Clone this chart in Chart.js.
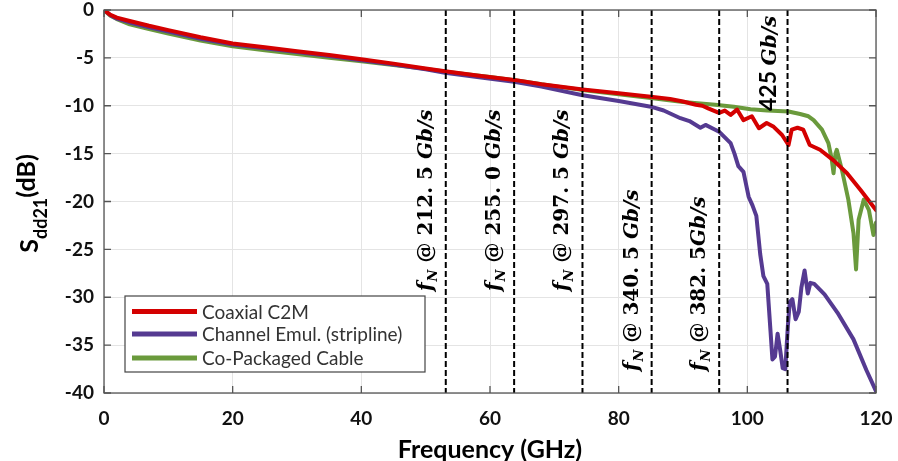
<!DOCTYPE html>
<html>
<head>
<meta charset="utf-8">
<script src="https://cdn.jsdelivr.net/npm/chart.js@4.4.1/dist/chart.umd.min.js"></script>
<style>
  html,body{margin:0;padding:0;background:#fff;}
  #wrap{width:898px;height:461px;}
</style>
</head>
<body>
<div id="wrap"><canvas id="c" width="898" height="461"></canvas></div>
<script>
// ---- data (GHz, dB) ----
const coaxFreq = [0,1,2,4,7,10,15,20,25,30,35,40,45,50,53,58,63.75,68,74.4,80,85,88,90,92,93,94,95.6,96.5,97.4,98.4,99.4,100.7,101.8,103,104.1,105.4,106.4,106.9,107.8,108.7,109.7,111.3,113.4,115.5,117.6,120];
const coaxDb   = [0,-0.5,-0.8,-1.15,-1.65,-2.1,-2.85,-3.5,-3.9,-4.3,-4.7,-5.15,-5.6,-6.1,-6.4,-6.85,-7.3,-7.75,-8.3,-8.7,-9.05,-9.3,-9.55,-9.9,-10.0,-10.3,-10.75,-10.5,-10.95,-10.4,-11.5,-11.1,-12.35,-11.8,-12.2,-13.05,-14.1,-12.5,-12.3,-12.5,-14.1,-14.6,-15.7,-17.05,-18.8,-20.9];

const stripFreq = [0,1,2,4,7,10,15,20,25,30,35,40,45,50,53,58,63.75,68,74.4,80,85,87,89.6,91,92.7,93.5,95,95.6,96.5,97.4,98.0,98.6,99.4,100.2,100.8,101.4,102.0,102.5,103.1,103.6,103.9,104.3,104.7,105.1,105.5,105.9,106.3,106.6,107.0,107.5,108.0,108.4,108.9,109.4,109.8,110.4,112,114,116.5,118.5,120];
const stripDb   = [0,-0.55,-0.9,-1.3,-1.8,-2.25,-3.0,-3.6,-4.0,-4.4,-4.8,-5.25,-5.7,-6.2,-6.55,-7.0,-7.5,-8.0,-8.9,-9.5,-10.1,-10.5,-11.3,-11.6,-12.3,-12.0,-12.5,-12.7,-13.3,-13.9,-15.0,-16.3,-16.9,-19.5,-20.4,-21.5,-25.5,-27.8,-28.6,-33.5,-36.5,-36.2,-33.8,-35.5,-37.4,-37.5,-33.0,-30.5,-30.2,-32.3,-31.5,-29.0,-27.2,-29.6,-28.5,-28.6,-29.7,-31.6,-34.4,-37.6,-39.8];

const cpcFreq = [0,1,2,4,7,10,15,20,25,30,35,40,45,50,55,60,65,70,75,80,85,90,95,97.9,100.5,103.1,106.4,108.2,109.5,110.3,111.6,112.6,113.1,113.4,113.7,113.9,114.7,115.7,116.5,116.9,117.3,118.1,118.9,119.6,120];
const cpcDb   = [0,-0.6,-0.95,-1.5,-2.0,-2.45,-3.2,-3.8,-4.2,-4.6,-5.0,-5.35,-5.75,-6.15,-6.6,-7.0,-7.45,-7.95,-8.4,-8.8,-9.2,-9.6,-9.9,-10.1,-10.37,-10.5,-10.6,-10.86,-11.1,-11.5,-12.5,-13.9,-15.5,-17.05,-15.0,-14.6,-16.7,-19.8,-23.3,-27.1,-21.9,-19.8,-20.9,-23.5,-22.2];

const seriesNames  = ["Coaxial C2M","Channel Emul. (stripline)","Co-Packaged Cable"];
const seriesColors = ["#d40000","#553a91","#6a9a3c"];

// Nyquist markers (GHz) and their data-rate labels
const nyqFreq  = [53.125, 63.75, 74.375, 85.125, 95.625, 106.25];
const nyqRates = ["212. 5 ", "255. 0 ", "297. 5 ", "340. 5 ", "382. 5", "425 "];

const xTicks = {min:0, max:120, step:20};
const yTicks = {min:-40, max:0, step:5};

function zip(xs, ys){ return xs.map((x,i)=>({x, y:ys[i]})); }

const curves = [zip(coaxFreq,coaxDb), zip(stripFreq,stripDb), zip(cpcFreq,cpcDb)].map((d,i)=>({
  label:seriesNames[i], data:d, borderColor:seriesColors[i], backgroundColor:seriesColors[i],
  borderWidth:4, pointRadius:0, tension:0, borderJoinStyle:"round", borderCapStyle:"round", order:i
}));
const markers = nyqFreq.map(f=>({
  label:"_nyq", data:[{x:f,y:yTicks.max},{x:f,y:yTicks.min}], borderColor:"#000",
  borderWidth:2, borderDash:[6,3], pointRadius:0, order:-1
}));

const TICKFONT = {family:"Lato", size:19, weight:"bold"};

// frame, inward ticks, titles, legend, rotated labels
const decor = {
  id:"decor",
  afterDatasetsDraw(chart){
    const {ctx, chartArea:a, scales:{x, y}} = chart;
    ctx.save();
    // box + inward ticks
    ctx.strokeStyle="#555"; ctx.lineWidth=1.3;
    ctx.strokeRect(a.left, a.top, a.right-a.left, a.bottom-a.top);
    ctx.beginPath();
    for(let v=xTicks.min; v<=xTicks.max; v+=xTicks.step){
      const px=x.getPixelForValue(v);
      ctx.moveTo(px,a.bottom); ctx.lineTo(px,a.bottom-7);
      ctx.moveTo(px,a.top); ctx.lineTo(px,a.top+7);
    }
    for(let v=yTicks.min; v<=yTicks.max; v+=yTicks.step){
      const py=y.getPixelForValue(v);
      ctx.moveTo(a.left,py); ctx.lineTo(a.left+7,py);
      ctx.moveTo(a.right,py); ctx.lineTo(a.right-7,py);
    }
    ctx.stroke();

    // x title
    ctx.fillStyle="#000";
    ctx.font="bold 25px Lato"; ctx.textAlign="center"; ctx.textBaseline="alphabetic";
    ctx.fillText("Frequency (GHz)", (a.left+a.right)/2, 458);

    // y title: S_dd21(dB), rotated
    ctx.save();
    ctx.translate(38, (a.top+a.bottom)/2+2);
    ctx.rotate(-Math.PI/2);
    ctx.textAlign="left";
    const big="bold 25px Lato", small="bold 18px Lato";
    ctx.font=big; const w1=ctx.measureText("S").width;
    ctx.font=small; const w2=ctx.measureText("dd21").width;
    ctx.font=big; const w3=ctx.measureText("(dB)").width;
    let cx=-(w1+w2+w3)/2;
    ctx.font=big; ctx.fillText("S",cx,0); cx+=w1;
    ctx.font=small; ctx.fillText("dd21",cx,9); cx+=w2;
    ctx.font=big; ctx.fillText("(dB)",cx,-3);
    ctx.restore();

    // legend
    const L={x:125,y:296,w:300,h:76};
    ctx.fillStyle="#fff"; ctx.fillRect(L.x,L.y,L.w,L.h);
    ctx.strokeStyle="#444"; ctx.lineWidth=1.2; ctx.strokeRect(L.x,L.y,L.w,L.h);
    const rows=[311.5,334,358];
    ctx.font="19px Lato"; ctx.textAlign="left"; ctx.textBaseline="middle";
    curves.forEach((ds,i)=>{
      ctx.strokeStyle=ds.borderColor; ctx.lineWidth=5;
      ctx.beginPath(); ctx.moveTo(132,rows[i]); ctx.lineTo(197,rows[i]); ctx.stroke();
      ctx.fillStyle="#333"; ctx.fillText(ds.label,202,rows[i]+1);
    });

    // rotated Nyquist labels
    ctx.fillStyle="#000"; ctx.textBaseline="alphabetic";
    const fI="italic bold 20px 'DejaVu Serif'", fS="italic bold 13px 'DejaVu Serif'", fR="bold 20px 'DejaVu Serif'";
    nyqFreq.forEach((f,i)=>{
      const px=x.getPixelForValue(f);
      ctx.save();
      if(i<5){
        const startY = i<3 ? 291 : 371;
        ctx.translate(px-14,startY); ctx.rotate(-Math.PI/2);
        let cx=0;
        ctx.font=fI; ctx.fillText("f",cx,0); cx+=ctx.measureText("f").width+1;
        ctx.font=fS; ctx.fillText("N",cx,5); cx+=ctx.measureText("N").width;
        ctx.font=fR; const t=" @ "+nyqRates[i]; ctx.fillText(t,cx,0); cx+=ctx.measureText(t).width;
        ctx.font=fI; ctx.fillText("Gb/s",cx,0);
      } else {
        ctx.translate(px-12,111); ctx.rotate(-Math.PI/2);
        let cx=0;
        ctx.font="bold 23px Lato"; ctx.fillText(nyqRates[i],cx,0); cx+=ctx.measureText(nyqRates[i]).width;
        ctx.font=fI; ctx.fillText("Gb/s",cx,0);
      }
      ctx.restore();
    });
    ctx.restore();
  }
};

new Chart(document.getElementById("c"), {
  type:"line",
  data:{datasets:[...curves, ...markers]},
  options:{
    responsive:false, animation:false, devicePixelRatio:1,
    layout:{padding:{top:10,right:22,left:0,bottom:0}},
    scales:{
      x:{type:"linear", min:xTicks.min, max:xTicks.max,
         ticks:{stepSize:xTicks.step, font:TICKFONT, color:"#111", padding:14, maxRotation:0},
         grid:{color:"#e4e4e4", lineWidth:1, drawTicks:false}, border:{display:false},
         afterFit(s){ s.height=68; s.paddingLeft=0; s.paddingRight=0; }},
      y:{type:"linear", min:yTicks.min, max:yTicks.max,
         ticks:{stepSize:yTicks.step, font:TICKFONT, color:"#111", padding:10},
         grid:{color:"#e4e4e4", lineWidth:1, drawTicks:false}, border:{display:false},
         afterFit(s){ s.width=104; s.paddingTop=0; s.paddingBottom=0; }}
    },
    plugins:{legend:{display:false}, tooltip:{enabled:false}}
  },
  plugins:[decor]
});
</script>
</body>
</html>
